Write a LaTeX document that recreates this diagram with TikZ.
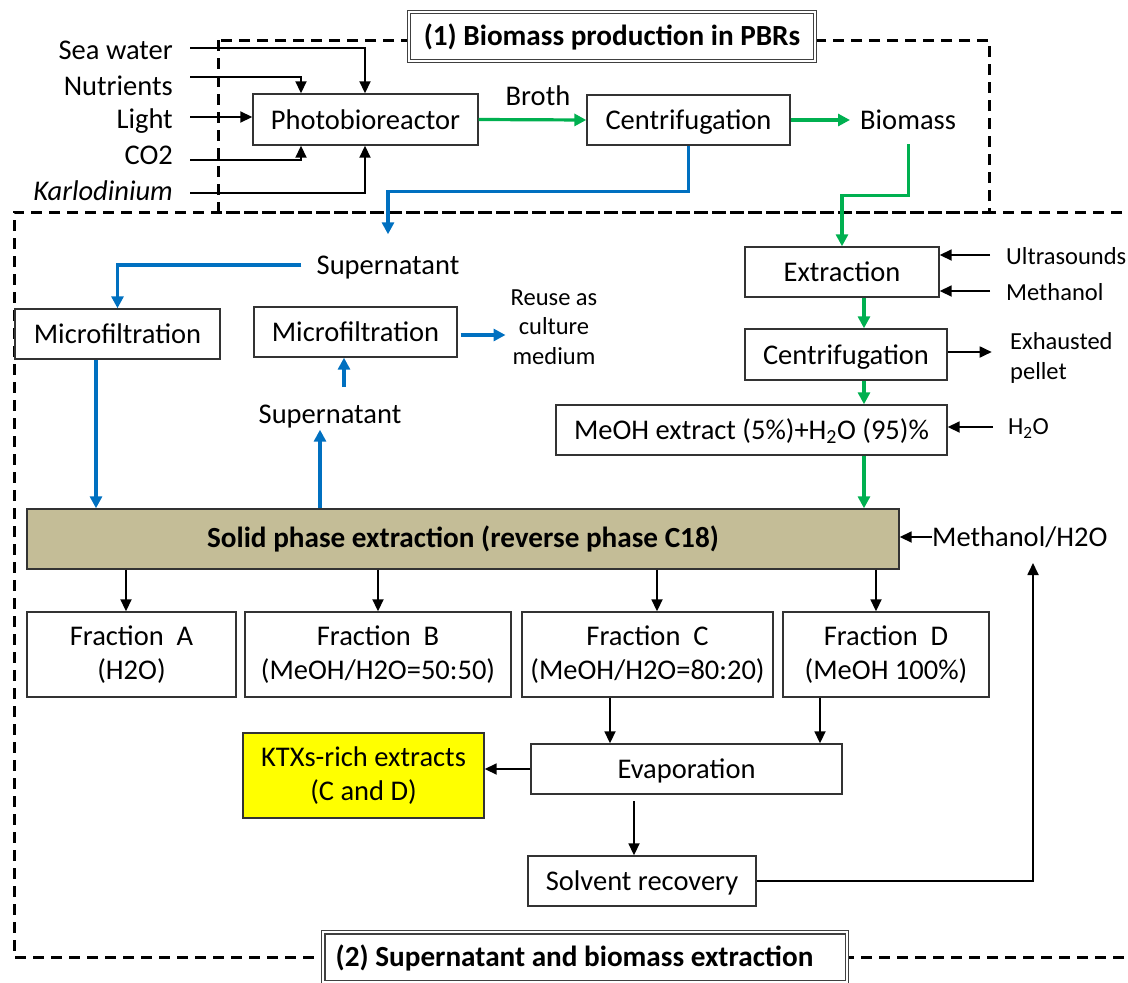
\documentclass[tikz,border=0pt]{standalone}
\usepackage{fontspec}
\setmainfont{Carlito}
\usetikzlibrary{arrows.meta,calc}
\definecolor{gr}{HTML}{00B050}
\definecolor{bl}{HTML}{0070C0}
\definecolor{spetan}{HTML}{C4BD97}
\definecolor{yel}{HTML}{FFFF00}
\begin{document}
\begin{tikzpicture}[x=1pt,y=-1pt,
 every node/.style={font=\fontsize{28.5}{34}\selectfont},
 sm/.style={font=\fontsize{24.5}{29.5}\selectfont},
 bf/.style={font=\bfseries\fontsize{29.2}{34}\selectfont},
 lbl/.style={inner sep=0pt, text height=22pt, text depth=3pt},
 box/.style={draw=black!80, line width=1.4pt, fill=white, inner sep=0pt, align=center},
 sbox/.style={box, text height=22pt, text depth=3pt},
 fbox/.style={box, minimum height=85pt},
 tbox/.style={draw=black!75, fill=white, double, double distance=2pt, line width=1.3pt, inner sep=0pt},
 dashbox/.style={line width=3pt, dash pattern=on 11pt off 7pt},
 arr/.style={line width=1.8pt, -{Triangle[length=12pt,width=11pt]}},
 garr/.style={draw=gr, line width=3.2pt, -{Triangle[length=12pt,width=12pt]}},
 barr/.style={draw=bl, line width=3.2pt, -{Triangle[length=12pt,width=12pt]}}]
\useasboundingbox (0,0) rectangle (1128,983);
\clip (0,0) rectangle (1128,983);

% dashed groups
\draw[dashbox] (218,40) rectangle (989,212);
\draw[dashbox] (1140,212) -- (14,212) -- (14,957) -- (1140,957);

% titles
\node[tbox, bf, minimum width=406pt, minimum height=49pt] (t1) at (612,36.5) {(1) Biomass production in PBRs};
\node[tbox, minimum width=523.6pt, minimum height=49.6pt] (t2) at (585,957) {};
\node[lbl, bf] (t2txt) at (574.5,957) {(2) Supernatant and biomass extraction};

% stage 1
\node[sbox, minimum width=225pt, minimum height=51pt] (pbr) at (365.5,119.5) {Photobioreactor};
\node[sbox, minimum width=203pt, minimum height=50pt] (cent1) at (688.5,120) {Centrifugation};
\node[lbl, anchor=east] (sw) at (173,50) {Sea water};
\node[lbl, anchor=east] (nut) at (173,86) {Nutrients};
\node[lbl, anchor=east] (lig) at (173,119) {Light};
\node[lbl, anchor=east] (co2) at (173,155) {CO2};
\node[lbl, anchor=east] (kar) at (173,191) {\itshape Karlodinium};
\node[lbl] (broth) at (538,96) {Broth};
\node[lbl, anchor=west] (bio) at (860,120) {Biomass};

\draw[arr] ([xshift=17pt,yshift=2pt]sw.east) -| ([xshift=-0.5pt]pbr.north);
\draw[arr] ([xshift=17pt,yshift=9pt]nut.east) -| ([xshift=-64.5pt]pbr.north);
\draw[arr] ([xshift=17pt,yshift=2pt]lig.east) coordinate (l1) -- (l1 -| pbr.west);
\draw[arr] ([xshift=17pt,yshift=-5pt]co2.east) -| ([xshift=-64.5pt]pbr.south);
\draw[arr] ([xshift=17pt,yshift=-2pt]kar.east) -| ([xshift=-0.5pt]pbr.south);

\draw[garr] (pbr.east) -- (cent1.west);
\draw[garr] (cent1.east) -- ([xshift=-10pt]bio.west);

% stage 2 nodes
\node[lbl] (sup1) at (388,265) {Supernatant};
\node[sbox, minimum width=205pt, minimum height=50pt] (mf1) at (117.5,334) {Microfiltration};
\node[sbox, minimum width=203pt, minimum height=50pt] (mf2) at (355.5,332) {Microfiltration};
\node[sm, align=center, inner sep=0pt] (reuse) at (554,327) {Reuse as\\culture\\medium};
\node[lbl] (sup2) at (330,414) {Supernatant};
\node[box, bf, fill=spetan, minimum width=872pt, minimum height=60pt] (spe) at (463,539) {Solid phase extraction (reverse phase C18)};

\node[sbox, minimum width=194pt, minimum height=50pt] (ext) at (842,272) {Extraction};
\node[sbox, minimum width=202pt, minimum height=51pt] (cent2) at (846,354.5) {Centrifugation};
\node[sbox, minimum width=391pt, minimum height=50pt] (meoh) at (751.5,430) {MeOH extract (5\%)+H\textsubscript{2}O (95)\%};
\node[lbl, sm, anchor=west] (ultra) at (1006,255) {Ultrasounds};
\node[lbl, sm, anchor=west] (meth) at (1006,291) {Methanol};
\node[sm, align=left, anchor=west, inner sep=0pt] (exh) at (1010,358) {Exhausted\\pellet};
\node[lbl, sm, anchor=west] (h2o) at (1008,425) {H\textsubscript{2}O};
\node[lbl, anchor=west] (mh) at (932,537) {Methanol/H2O};

\node[fbox, minimum width=209pt] (fa) at (131.5,654.5) {Fraction\ \ A\\(H2O)};
\node[fbox, minimum width=266pt] (fb) at (378,654.5) {Fraction\ \ B\\(MeOH/H2O=50:50)};
\node[fbox, minimum width=251pt] (fc) at (647.5,654.5) {Fraction\ \ C\\(MeOH/H2O=80:20)};
\node[fbox, minimum width=206pt] (fd) at (886,654.5) {Fraction\ \ D\\(MeOH 100\%)};

\node[sbox, minimum width=311pt, minimum height=50pt] (evap) at (686.5,769) {Evaporation};
\node[box, fill=yel, minimum width=241pt, minimum height=85pt] (ktx) at (363.5,775.5) {KTXs-rich extracts\\(C and D)};
\node[sbox, minimum width=228pt, minimum height=50pt] (sr) at (642,881) {Solvent recovery};

% blue flow
\draw[barr] (cent1.south) -- ++(0,46) -| ([yshift=18pt]sup1.north);
\draw[barr] ([xshift=-15pt]sup1.west) -| (mf1.north);
\draw[barr] ([xshift=-21.5pt]mf1.south) coordinate (m1) -- (m1 |- spe.north);
\coordinate (xA) at (320,0);
\draw[barr, shorten >=3pt] (xA |- spe.north) -- (xA |- sup2.south);
\coordinate (xB) at (344,387);
\draw[barr] (xB) -- (xB |- mf2.south);
\draw[barr, shorten >=5pt] ([xshift=3pt,yshift=-3pt]mf2.east) coordinate (r1) -- (r1 -| reuse.west);

% green flow
\draw[garr] ([yshift=-11.5pt]bio.south) -- ++(0,51) -| (ext.north);
\coordinate (xG) at (864,0);
\draw[garr] (xG |- ext.south) -- (xG |- cent2.north);
\draw[garr] (xG |- cent2.south) -- (xG |- meoh.north);
\draw[garr] (xG |- meoh.south) -- (xG |- spe.north);

% black side inputs
\draw[arr] ([xshift=-16pt]ultra.west) coordinate (u1) -- (u1 -| ext.east);
\draw[arr] ([xshift=-16pt]meth.west) coordinate (u2) -- (u2 -| ext.east);
\draw[arr] ([yshift=2.5pt]cent2.east) -- ++(44,0);
\draw[arr] ([xshift=-15pt,yshift=-2pt]h2o.west) coordinate (h1) -- (h1 -| meoh.east);
\draw[arr] (mh.west) -- (mh.west -| spe.east);

% fractions
\coordinate (xa) at (126,0);
\coordinate (xb) at (378,0);
\coordinate (xc) at (657,0);
\coordinate (xd) at (876,0);
\draw[arr] (xa |- spe.south) -- (xa |- fa.north);
\draw[arr] (xb |- spe.south) -- (xb |- fb.north);
\draw[arr] (xc |- spe.south) -- (xc |- fc.north);
\draw[arr] (xd |- spe.south) -- (xd |- fd.north);

\coordinate (xe) at (610,0);
\coordinate (xf) at (820,0);
\draw[arr] (xe |- fc.south) -- (xe |- evap.north);
\draw[arr] (xf |- fd.south) -- (xf |- evap.north);
\draw[arr] (evap.west) -- (evap.west -| ktx.east);
\coordinate (xs) at (634,801);
\draw[arr] (xs) -- (xs |- sr.north);
\coordinate (xm) at (1033,563);
\draw[arr] (sr.east) -| (xm);
\end{tikzpicture}
\end{document}
